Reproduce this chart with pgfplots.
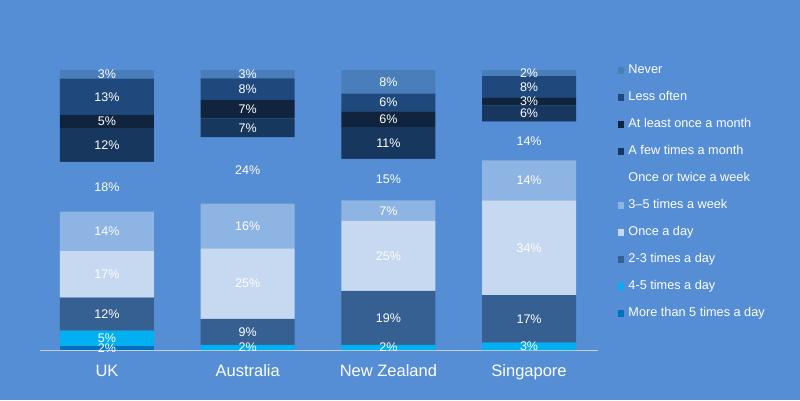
\documentclass[border=0pt]{standalone}
\usepackage{pgfplots}
\usepackage{pgfplotstable}
\pgfplotsset{compat=1.18}
\usepackage{fontspec}
\setmainfont{Liberation Sans}
\definecolor{bg}{HTML}{558ED5}
\definecolor{cNever}{HTML}{4A7EBB}
\definecolor{cLess}{HTML}{1F497D}
\definecolor{cAtLeast}{HTML}{10243E}
\definecolor{cFew}{HTML}{17375E}
\definecolor{cWeek3}{HTML}{8EB4E3}
\definecolor{cDay1}{HTML}{C6D9F1}
\definecolor{cDay23}{HTML}{376092}
\definecolor{cDay45}{HTML}{00B0F0}
\definecolor{cDay5}{HTML}{0070C0}
\definecolor{axln}{HTML}{BFD0EA}
\pgfplotstableread{
x  m5   d45  d23  d1   w35  w12  fm   lm   lo   nv
0  1.6  5.3  11.8 16.6 14.1 17.8 12.0 4.8  12.9 3.1
1  0    1.8  9.3  25.2 16.0 23.6 6.8  6.6  7.7  3.0
2  0    1.8  19.3 25.0 7.3  14.9 11.3 5.6  6.4  8.4
3  0    2.6  17.0 33.8 14.3 13.9 5.7  2.9  7.6  2.2
}\data
\pgfplotsset{leg/.style={legend image code/.code={\fill[##1] (0pt,-3.25pt) rectangle (6.5pt,3.25pt);}}}
\begin{document}
\begin{tikzpicture}[x=1pt,y=1pt]
\fill[bg] (0,0) rectangle (800,400);
\begin{axis}[
  at={(40pt,50pt)}, anchor=south west,
  scale only axis, width=558pt, height=280pt,
  xmin=-0.476, xmax=3.49, ymin=0, ymax=100,
  ybar stacked, bar width=0.668,
  clip=false,
  axis y line=none,
  axis x line*=bottom,
  x axis line style={draw=axln, line width=0.8pt, -},
  xtick=data,
  xticklabels={UK,Australia,New Zealand,Singapore},
  major tick length=0pt,
  xticklabel style={font=\fontsize{16.5}{19}\selectfont, text=white, anchor=base, yshift=-26pt, inner sep=0pt},
  ytick=\empty,
  /pgf/number format/assume math mode=true,
  visualization depends on={rawy \as \rawy},
  nodes near coords={\ifdim\rawy pt>0.05pt \pgfmathprintnumber[fixed,precision=0,assume math mode=true]{\rawy}\%\fi},
  every node near coord/.append style={font=\fontsize{12.5}{15}\selectfont, text=white, anchor=center, inner sep=0pt},
  reverse legend,
  legend cell align=left,
  legend style={at={(1.0358,1.0214)}, anchor=north west, draw=none, fill=none, inner sep=0pt, outer sep=0pt,
    font=\fontsize{12.7}{15}\selectfont, text=white, row sep=14.5pt, column sep=4pt,
    nodes={inner sep=0pt, text height=9.5pt, text depth=3pt}},
]
\addplot[fill=cDay5, draw=none, leg] table[x=x, y=m5] {\data};
\addlegendentry{More than 5 times a day}
\addplot[fill=cDay45, draw=none, leg] table[x=x, y=d45] {\data};
\addlegendentry{4-5 times a day}
\addplot[fill=cDay23, draw=none, leg] table[x=x, y=d23] {\data};
\addlegendentry{2-3 times a day}
\addplot[fill=cDay1, draw=none, leg] table[x=x, y=d1] {\data};
\addlegendentry{Once a day}
\addplot[fill=cWeek3, draw=none, leg] table[x=x, y=w35] {\data};
\addlegendentry{3–5 times a week}
\addplot[fill=bg, draw=none, leg] table[x=x, y=w12] {\data};
\addlegendentry{Once or twice a week}
\addplot[fill=cFew, draw=none, leg] table[x=x, y=fm] {\data};
\addlegendentry{A few times a month}
\addplot[fill=cAtLeast, draw=none, leg] table[x=x, y=lm] {\data};
\addlegendentry{At least once a month}
\addplot[fill=cLess, draw=none, leg] table[x=x, y=lo] {\data};
\addlegendentry{Less often}
\addplot[fill=cNever, draw=none, leg] table[x=x, y=nv] {\data};
\addlegendentry{Never}
\end{axis}
\pgfresetboundingbox
\path[use as bounding box] (0,0) rectangle (800,400);
\end{tikzpicture}
\end{document}
